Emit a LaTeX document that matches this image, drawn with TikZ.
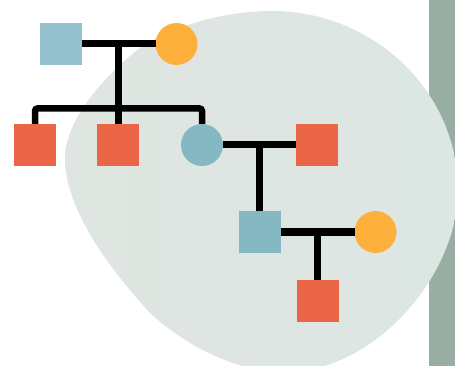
\documentclass[tikz,border=0pt]{standalone}
\definecolor{blobl}{HTML}{DFE5E1}
\definecolor{blobr}{HTML}{DCE6E3}
\definecolor{barc}{HTML}{98AEA2}
\definecolor{bluea}{HTML}{94C1CD}
\definecolor{blueb}{HTML}{86B8C3}
\definecolor{orangec}{HTML}{FDB03B}
\definecolor{redc}{HTML}{EB6547}
\tikzset{
  sq/.style={rectangle,minimum size=42pt,inner sep=0pt,outer sep=0pt},
  circ/.style={circle,minimum size=42pt,inner sep=0pt,outer sep=0pt},
  link/.style={draw=black,line width=7pt},
  tree/.style={draw=black,line width=6.5pt,rounded corners=2.5pt}
}
\begin{document}
\begin{tikzpicture}[x=1pt,y=-1pt]
\useasboundingbox (0,0) rectangle (455,366);
\fill[white] (0,0) rectangle (455,366);
\fill[barc] (429,0) rectangle (455,366);
\begin{scope}
\clip (0,0) rectangle (455,366);
\shade[left color=blobl,right color=blobr] (272,11)
  .. controls (374,11) and (458,92) .. (458,190)
  .. controls (458,275) and (375,372) .. (285,372)
  .. controls (235,372) and (185,345) .. (150,313)
  .. controls (120,280) and (65,215) .. (65,158)
  .. controls (65,120) and (105,75) .. (140,48)
  .. controls (175,25) and (225,11) .. (272,11) -- cycle;
\end{scope}
\coordinate (c1) at (118,44.5);
\coordinate (b1) at (118,108.5);
\coordinate (c2) at (259.5,144.5);
\coordinate (c3) at (317.5,232.5);
\node[sq,fill=bluea] (f1) at (61,44) {};
\node[circ,fill=orangec] (m1) at (176.5,44) {};
\node[sq,fill=redc] (k1) at (35,145) {};
\node[sq,fill=redc] (k2) at (118,145) {};
\node[circ,fill=blueb] (k3) at (202,145) {};
\node[sq,fill=redc] (s2) at (317,145) {};
\node[sq,fill=blueb] (g1) at (260,232) {};
\node[circ,fill=orangec] (s3) at (375.5,232) {};
\node[sq,fill=redc] (g2) at (318,301) {};
\draw[link] (f1.east) -- (m1.west);
\draw[link] (c1) -- (b1);
\draw[tree] (k1.north) -- (k1.north |- b1) -- (k3.north |- b1) -- (k3.north);
\draw[link] (b1) -- (k2.north);
\draw[link] (k3.east) -- (s2.west);
\draw[link] (c2) -- (c2 |- g1.north);
\draw[link] (g1.east) -- (s3.west);
\draw[link] (c3) -- (c3 |- g2.north);
\end{tikzpicture}
\end{document}
